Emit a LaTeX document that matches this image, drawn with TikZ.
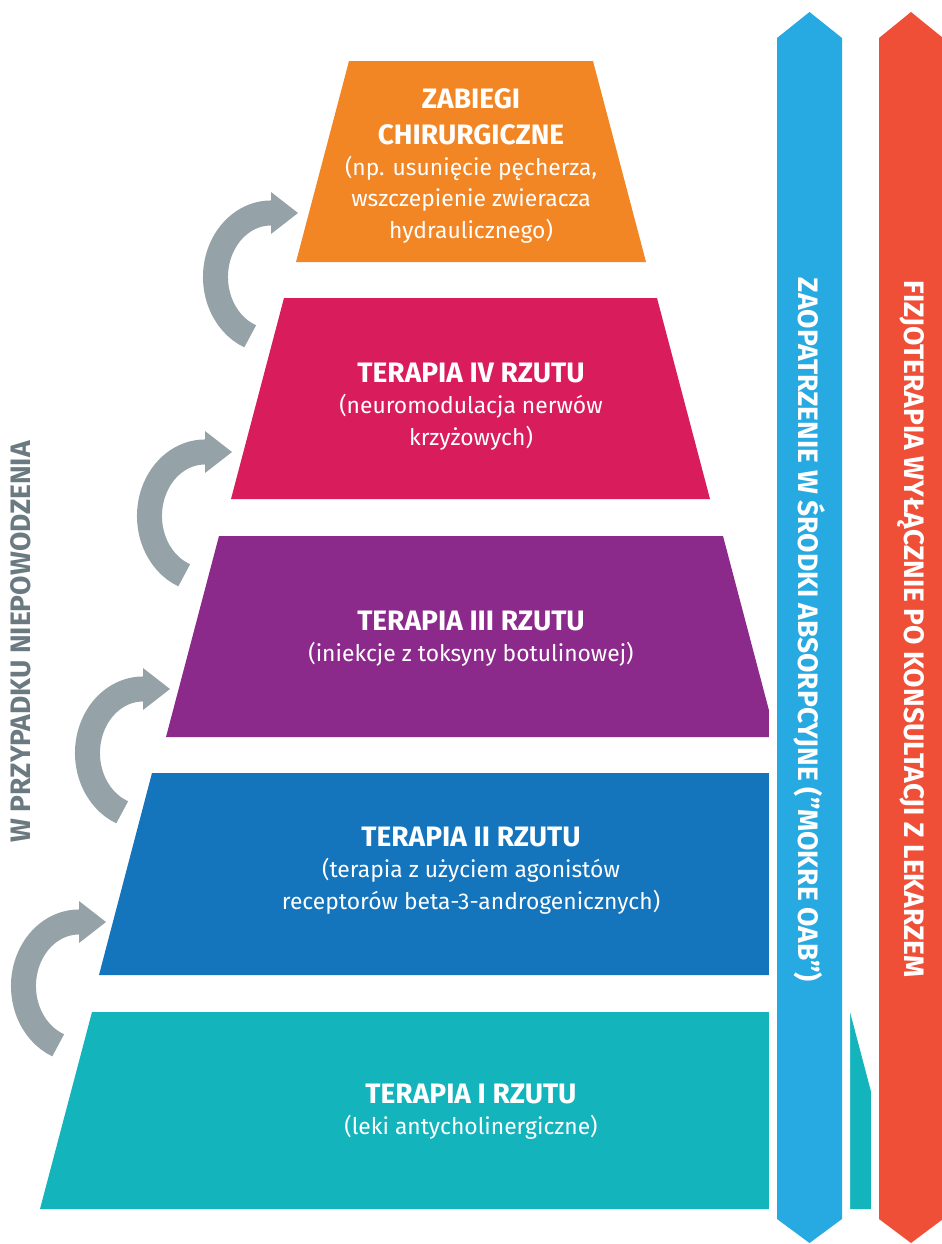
\documentclass[tikz,border=0pt]{standalone}
\usepackage{fontspec}
\setmainfont{Fira Sans}
\usepackage{xcolor}
\usepackage{tikz}
\usetikzlibrary{positioning}

\definecolor{surgery}{HTML}{F28524}
\definecolor{lineIV}{HTML}{D91C5C}
\definecolor{lineIII}{HTML}{8C2A8C}
\definecolor{lineII}{HTML}{1474BC}
\definecolor{lineI}{HTML}{14B4BD}
\definecolor{absorb}{HTML}{27AAE1}
\definecolor{physio}{HTML}{EF4E37}
\definecolor{arrowgray}{HTML}{95A3A8}
\definecolor{labelgray}{HTML}{6B7A80}

\begin{document}
\begin{tikzpicture}[x=0.02cm,y=0.02cm]
		\tikzstyle{stagehead}=[anchor=north, inner sep=0pt, text=white, align=center, font=\fontsize{16}{20.4}\selectfont\bfseries]
		\tikzstyle{stagenote}=[inner sep=0pt, text=white, align=center, font=\fontsize{13}{18.1}\selectfont]
		\tikzstyle{sidebar}=[preaction={draw=white, line width=0.32cm}]
		\tikzstyle{sidetext}=[inner sep=0pt, text=white, rotate=-90, font=\fontsize{16}{20}\selectfont\bfseries]
		\tikzstyle{retry}=[draw=arrowgray, line width=0.5cm]

	\useasboundingbox (0,0) rectangle (941,-1244);

	% pyramid, top to bottom
	\fill[surgery] (296,-262) -- (349,-61) -- (593,-61) -- (646,-262) -- cycle;
	\node [stagehead] (headV) at (471,-88) {ZABIEGI\\CHIRURGICZNE};
	\node [stagenote, below=0.21cm of headV] (noteV) {(np. usunięcie pęcherza,\\wszczepienie zwieracza\\hydraulicznego)};

	\fill[lineIV] (231,-499) -- (284,-298) -- (657,-298) -- (710,-499) -- cycle;
	\node [stagehead] (headIV) at (471,-363) {TERAPIA IV RZUTU};
	\node [stagenote, below=0.21cm of headIV] (noteIV) {(neuromodulacja nerwów\\krzyżowych)};

	\fill[lineIII] (166,-737) -- (219,-536) -- (723,-536) -- (776,-737) -- cycle;
	\node [stagehead] (headIII) at (471,-611) {TERAPIA III RZUTU};
	\node [stagenote, below=0.21cm of headIII] (noteIII) {(iniekcje z toksyny botulinowej)};

	\fill[lineII] (99,-975) -- (152,-773) -- (790,-773) -- (843,-975) -- cycle;
	\node [stagehead] (headII) at (471,-827) {TERAPIA II RZUTU};
	\node [stagenote, below=0.21cm of headII] (noteII) {(terapia z użyciem agonistów\\receptorów beta-3-androgenicznych)};

	\fill[lineI] (40,-1209) -- (92,-1012) -- (850,-1012) -- (902,-1209) -- cycle;
	\node [stagehead] (headI) at (471,-1084) {TERAPIA I RZUTU};
	\node [stagenote, below=0.21cm of headI] (noteI) {(leki antycholinergiczne)};

	% side bars, the white rim cuts the tiers
	\fill[sidebar, absorb] (777,-38) -- (809.5,-12) -- (842,-38) -- (842,-1219) -- (809.5,-1243) -- (777,-1219) -- cycle;
	\node [sidetext] (absorbtext) at (809.5,-630) {ZAOPATRZENIE W ŚRODKI ABSORPCYJNE (”MOKRE OAB”)};

	\fill[sidebar, physio] (879,-38) -- (911,-12) -- (943,-38) -- (943,-1219) -- (911,-1243) -- (879,-1219) -- cycle;
	\node [sidetext] (physiotext) at (911,-629) {FIZJOTERAPIA WYŁĄCZNIE PO KONSULTACJI Z LEKARZEM};

	% step up arrows
	\coordinate (tail1) at (250.2,-336.3);
	\coordinate (tip1) at (298,-213);
	\draw[retry] (tail1) arc[start angle=248, end angle=90, x radius=55.5, y radius=64] -- ++(2,0);
	\fill[arrowgray] (tip1) -- ++(-27,21) -- ++(0,-42) -- cycle;

	\coordinate (tail2) at (184.2,-575.3);
	\coordinate (tip2) at (232,-452);
	\draw[retry] (tail2) arc[start angle=248, end angle=90, x radius=55.5, y radius=64] -- ++(2,0);
	\fill[arrowgray] (tip2) -- ++(-27,21) -- ++(0,-42) -- cycle;

	\coordinate (tail3) at (122.2,-812.3);
	\coordinate (tip3) at (170,-689);
	\draw[retry] (tail3) arc[start angle=248, end angle=90, x radius=55.5, y radius=64] -- ++(2,0);
	\fill[arrowgray] (tip3) -- ++(-27,21) -- ++(0,-42) -- cycle;

	\coordinate (tail4) at (58.2,-1045.3);
	\coordinate (tip4) at (106,-922);
	\draw[retry] (tail4) arc[start angle=248, end angle=90, x radius=55.5, y radius=64] -- ++(2,0);
	\fill[arrowgray] (tip4) -- ++(-27,21) -- ++(0,-42) -- cycle;

	\node [rotate=90, inner sep=0pt, text=labelgray, font=\fontsize{16}{20}\selectfont\bfseries] (failure) at (21,-642) {W PRZYPADKU NIEPOWODZENIA};
\end{tikzpicture}
\end{document}
